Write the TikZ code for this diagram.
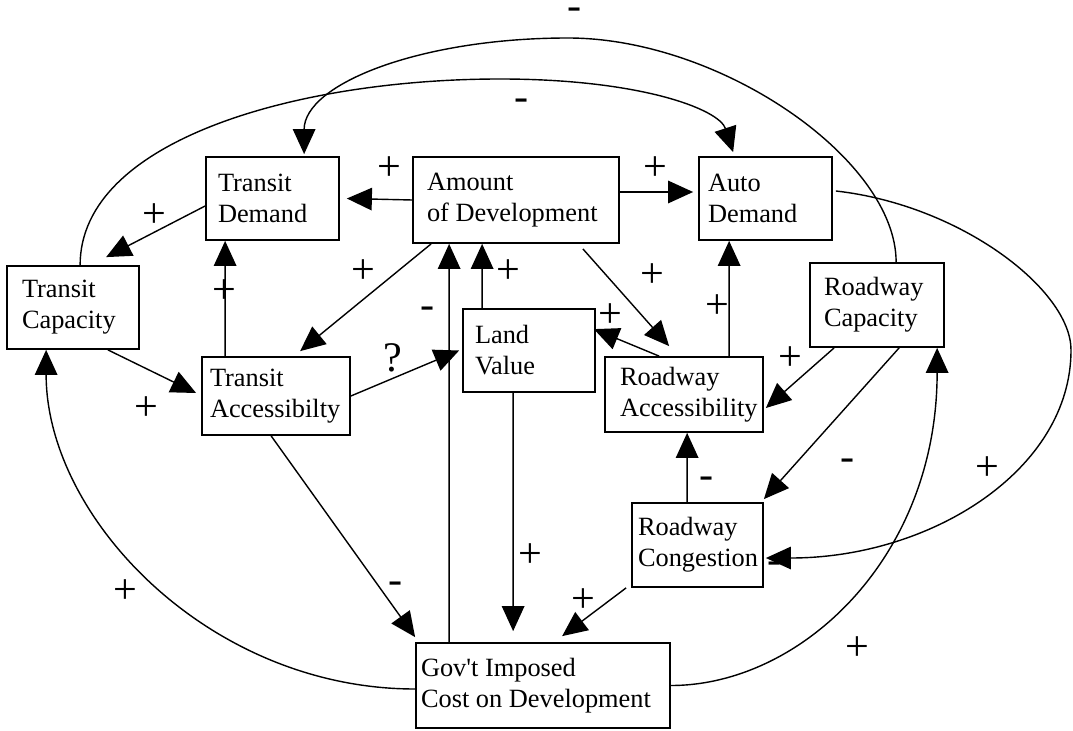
\documentclass[tikz,border=0pt]{standalone}
\usepackage{fontspec}
\setmainfont{Liberation Serif}
\usetikzlibrary{positioning, arrows.meta, calc}

\begin{document}
\begin{tikzpicture}[
    block/.style={rectangle, draw=black, line width=1pt, align=flush left,
                  font=\fontsize{15}{17.6}\selectfont},
    arrow/.style={-{Triangle[length=5mm, width=4.5mm]}, line width=0.8pt},
    sign/.style={font=\fontsize{24}{24}\selectfont, inner sep=0pt, text height=11.5pt, text depth=0pt}
]
    \useasboundingbox (0,0) rectangle (21.46,14.6);

    % Variables
    \node[block, text width=2.18cm, inner xsep=0.24cm, minimum height=1.66cm] (transitDemand) at (5.45, 10.63) {Transit\\Demand};
    \node[block, text width=3.56cm, inner xsep=0.28cm, minimum height=1.72cm] (amount) at (10.32, 10.60) {Amount\\of Development};
    \node[block, text width=2.30cm, inner xsep=0.18cm, minimum height=1.66cm] (autoDemand) at (15.31, 10.63) {Auto\\Demand};
    \node[block, text width=2.04cm, inner xsep=0.30cm, minimum height=1.66cm] (transitCapacity) at (1.46, 8.45) {Transit\\Capacity};
    \node[block, text width=2.64cm, inner xsep=0.16cm, minimum height=1.56cm] (transitAccess) at (5.52, 6.68) {Transit\\Accessibilty};
    \node[block, text width=2.16cm, inner xsep=0.24cm, minimum height=1.66cm] (landValue) at (10.58, 7.59) {Land\\Value};
    \node[block, text width=2.56cm, inner xsep=0.30cm, minimum height=1.50cm] (roadAccess) at (13.68, 6.71) {Roadway\\Accessibility};
    \node[block, text width=2.12cm, inner xsep=0.28cm, minimum height=1.68cm] (roadCapacity) at (17.54, 8.50) {Roadway\\Capacity};
    \node[block, text width=2.38cm, inner xsep=0.12cm, minimum height=1.68cm] (roadCongestion) at (13.95, 3.70) {Roadway\\Congestion};
    \node[block, text width=4.88cm, inner xsep=0.10cm, minimum height=1.70cm] (govCost) at (10.86, 0.89) {Gov\textquotesingle t Imposed\\Cost on Development};

    % Turning points of the long links
    \coordinate (loopTop) at (11.36, 13.84);
    \coordinate (wireTop) at (10.00, 13.02);
    \coordinate (loopRight) at (21.42, 7.60);

    % Straight links
    \draw[arrow] (amount.west) -- ([xshift=0.14cm]transitDemand.east);
    \draw[arrow] ([yshift=0.16cm]amount.east) -- ([xshift=-0.1cm, yshift=0.13cm]autoDemand.west);
    \draw[arrow] ([yshift=-0.15cm]transitDemand.west) -- ([xshift=2.0cm, yshift=0.16cm]transitCapacity.north west);
    \draw[arrow] ([xshift=0.48cm]transitAccess.north west) -- ([xshift=0.40cm]transitDemand.south west);
    \draw[arrow] ([xshift=0.38cm]amount.south west) -- ([xshift=1.98cm, yshift=0.1cm]transitAccess.north west);
    \draw[arrow] ([xshift=0.68cm]govCost.north west) -- ([xshift=0.74cm]amount.south west);
    \draw[arrow] ([xshift=0.40cm]landValue.north west) -- ([xshift=1.40cm]amount.south west);
    \draw[arrow] (transitAccess.east) -- ([xshift=-0.06cm]landValue.west);
    \draw[arrow] ([xshift=-0.74cm, yshift=-0.1cm]amount.south east) -- ([xshift=1.3cm, yshift=0.2cm]roadAccess.north west);
    \draw[arrow] ([xshift=1.1cm]roadAccess.north west) -- ([xshift=-0.04cm, yshift=-0.42cm]landValue.north east);
    \draw[arrow] ([xshift=2.5cm]roadAccess.north west) -- ([xshift=0.62cm]autoDemand.south west);
    \draw[arrow] ([xshift=0.5cm]roadCapacity.south west) -- ([xshift=0.04cm, yshift=-0.27cm]roadAccess.east);
    \draw[arrow] ([xshift=1.8cm]roadCapacity.south west) -- ([yshift=0.06cm]roadCongestion.north east);
    \draw[arrow] ([xshift=1.12cm]roadCongestion.north west) -- ([xshift=1.66cm]roadAccess.south west);
    \draw[arrow] ([xshift=-0.1cm]roadCongestion.south west) -- ([xshift=2.94cm, yshift=0.12cm]govCost.north west);
    \draw[arrow] ([xshift=1.02cm]landValue.south west) -- ([xshift=1.96cm, yshift=0.22cm]govCost.north west);
    \draw[arrow] ([xshift=1.4cm]transitAccess.south west) -- ([yshift=0.1cm]govCost.north west);
    \draw[arrow] ([xshift=-0.64cm]transitCapacity.south east) -- ([xshift=-0.1cm, yshift=0.06cm]transitAccess.west);

    % Curved links
    \draw[arrow] ([yshift=-0.07cm]govCost.west) .. controls +(-4.12,0) and +(0,-3.36) .. ([xshift=0.8cm]transitCapacity.south west);
    \draw[arrow] (govCost.east) .. controls +(2.6,0) and +(0,-4.2) .. ([xshift=2.56cm]roadCapacity.south west);
    \draw[arrow] ([xshift=0.06cm, yshift=0.15cm]autoDemand.east) .. controls +(2.5,-0.28) and +(0,1.2) .. (loopRight)
        .. controls +(0,-2.4) and +(3.3,0) .. ([xshift=0.04cm, yshift=-0.26cm]roadCongestion.east);
    \draw[arrow] ([xshift=1.74cm]roadCapacity.north west) .. controls +(0,2.06) and +(3.04,0) .. (loopTop)
        .. controls +(-2.96,0) and +(0,1.4) .. ([xshift=1.98cm, yshift=0.04cm]transitDemand.north west);
    \draw[arrow] ([xshift=1.48cm]transitCapacity.north west) .. controls +(0,2.52) and +(-4.0,0) .. (wireTop)
        .. controls +(2.8,0) and +(-0.28,0.86) .. ([xshift=0.7cm, yshift=0.08cm]autoDemand.north west);

    % Signs
    \node[sign] (sAmountTD) at (7.78, 11.20) {+};
    \node[sign] (sAmountAuto) at (13.10, 11.20) {+};
    \node[sign] (sTDTC) at (3.08, 10.26) {+};
    \node[sign] (sTATD) at (4.48, 8.74) {+};
    \node[sign] (sAmountTA) at (7.26, 9.14) {+};
    \node[sign] (sGovAmount) at (8.56, 8.44) {-};
    \node[sign] (sLVAmount) at (10.16, 9.14) {+};
    \node[sign] (sTALV) at (7.86, 7.38) {?};
    \node[sign] (sAmountRA) at (13.04, 9.06) {+};
    \node[sign] (sRALV) at (12.20, 8.26) {+};
    \node[sign] (sRAAuto) at (14.34, 8.44) {+};
    \node[sign] (sRCRA) at (15.80, 7.40) {+};
    \node[sign] (sRCCong) at (16.96, 5.40) {-};
    \node[sign] (sCongRA) at (14.14, 5.04) {-};
    \node[sign] (sCongGov) at (11.66, 2.56) {+};
    \node[sign] (sLVGov) at (10.60, 3.46) {+};
    \node[sign] (sTAGov) at (7.92, 2.94) {-};
    \node[sign] (sTCTA) at (2.92, 6.40) {+};
    \node[sign] (sGovTC) at (2.50, 2.74) {+};
    \node[sign] (sGovRC) at (17.14, 1.60) {+};
    \node[sign] (sAutoCong) at (19.74, 5.20) {+};
    \node[sign, text height=6pt] (sRCTD) at (11.50, 14.32) {-};
    \node[sign] (sTCAuto) at (10.44, 12.60) {-};
    \node[sign] (sCongTip) at (15.50, 3.34) {-};

\end{tikzpicture}
\end{document}
